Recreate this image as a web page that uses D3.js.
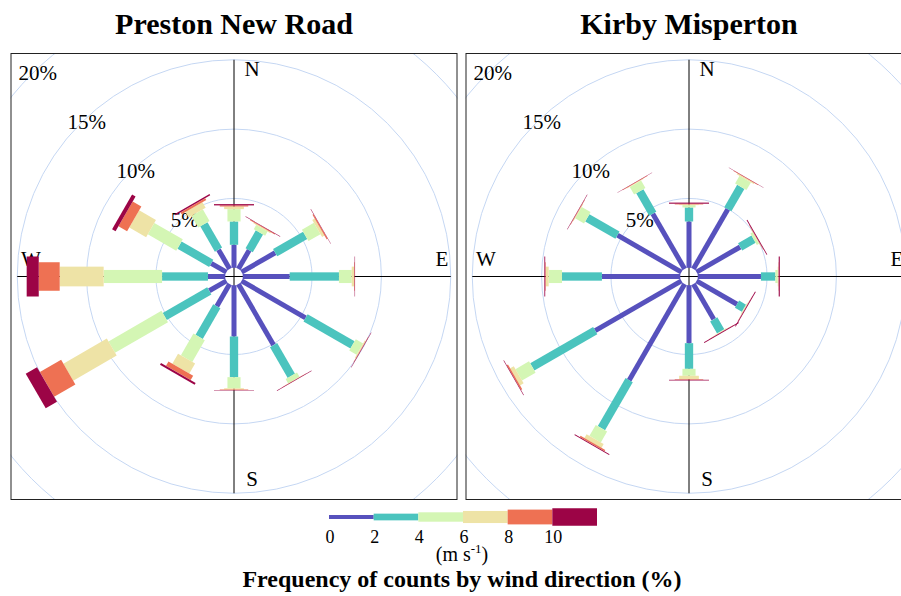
<!DOCTYPE html>
<html>
<head>
<meta charset="utf-8">
<script src="https://cdn.jsdelivr.net/npm/d3@7"></script>
<style>
  body { margin: 0; background: #fff; }
  svg text { font-family: "Liberation Serif", "Times New Roman", serif; fill: #000; }
</style>
</head>
<body>
<svg id="chart" width="901" height="596"></svg>
<script>
'use strict'

const directions = [360, 30, 60, 90, 120, 150, 180, 210, 240, 270, 300, 330]
const speedBins = ['0 to 2', '2 to 4', '4 to 6', '6 to 8', '8 to 10', '10 to 12']
const keyLabels = ['0', '2', '4', '6', '8', '10']
const gridPercents = [5, 10, 15, 20]
const siteNames = ['Preston New Road', 'Kirby Misperton']

// % of counts per direction (rows) and speed bin (columns)
const prestonFreq = [
  [1.66, 1.68, 0.89, 0.19, 0.08, 0.09],
  [1.56, 1.48, 0.35, 0.07, 0.06, 0.03],
  [2.80, 2.50, 1.00, 0.20, 0.08, 0.03],
  [3.39, 3.55, 0.92, 0.17, 0.04, 0.03],
  [5.33, 3.91, 0.61, 0.07, 0.03, 0.03],
  [5.08, 2.56, 0.36, 0.02, 0.02, 0.03],
  [3.70, 2.93, 0.80, 0.09, 0.04, 0.03],
  [1.85, 2.55, 1.81, 0.83, 0.36, 0.15],
  [1.43, 3.71, 4.41, 3.62, 1.77, 0.94],
  [1.25, 3.31, 4.21, 3.17, 1.51, 0.87],
  [1.27, 2.64, 2.37, 1.40, 0.72, 0.29],
  [1.61, 2.11, 0.97, 0.46, 0.15, 0.10]
]

const kirbyFreq = [
  [3.34, 1.01, 0.17, 0.05, 0.05, 0.08],
  [4.97, 1.87, 0.64, 0.08, 0.04, 0.02],
  [3.63, 1.12, 0.18, 0.04, 0.03, 0.06],
  [4.56, 1.04, 0.17, 0.05, 0.02, 0.08],
  [3.37, 0.58, 0.05, 0.02, 0.02, 0.06],
  [2.94, 1.00, 0.04, 0.02, 0.02, 0.06],
  [4.18, 1.85, 0.50, 0.25, 0.04, 0.05],
  [8.00, 4.00, 0.91, 0.32, 0.10, 0.07],
  [7.18, 5.24, 1.13, 0.30, 0.10, 0.04],
  [5.65, 2.88, 0.96, 0.21, 0.04, 0.06],
  [5.33, 2.51, 0.74, 0.05, 0.03, 0.03],
  [4.60, 1.87, 0.63, 0.05, 0.03, 0.02]
]

const binColours = ['#5751bd', '#4bc4be', '#d4f6b4', '#eee3a6', '#ee7153', '#9c0446']

const svg = d3.select('#chart')

const colour = d3.scaleOrdinal().domain(speedBins).range(binColours)
const radius = d3.scaleLinear().domain([0, 20]).range([8.7, 8.7 + 20 * 13.87])

// paddle widths grow like openair's box.widths
const widthSeq = d3.scaleLinear().domain([0, speedBins.length - 1]).range([0.002 ** 0.25, 0.016 ** 0.25])
const paddleWidth = i => 5 * Math.pow(widthSeq(i), 4) / 0.002

const stack = d3.stack().keys(speedBins)

function drawRose(name, freq, x0) {
  const boxW = 447
  const boxH = 447
  const y0 = 53
  const cx = x0 + boxW / 2
  const cy = y0 + boxH / 2
  const clipId = 'clip-' + name.replace(/\s+/g, '-')

  svg.append('text')
    .attr('x', cx)
    .attr('y', 34)
    .attr('text-anchor', 'middle')
    .attr('font-size', 30)
    .attr('font-weight', 'bold')
    .text(name)

  svg.append('clipPath').attr('id', clipId)
    .append('rect').attr('x', x0).attr('y', y0).attr('width', boxW).attr('height', boxH)

  const panel = svg.append('g').attr('clip-path', `url(#${clipId})`)
  const g = panel.append('g').attr('transform', `translate(${cx},${cy})`)

  g.selectAll('circle.grid')
    .data(gridPercents)
    .join('circle')
    .attr('class', 'grid')
    .attr('r', d => radius(d))
    .attr('fill', 'none')
    .attr('stroke', '#c5d7f3')
    .attr('stroke-width', 1)

  const axisLen = radius(15)
  g.append('line').attr('x1', 0).attr('x2', 0).attr('y1', -axisLen).attr('y2', axisLen)
    .attr('stroke', '#000').attr('stroke-width', 1)
  g.append('line').attr('y1', 0).attr('y2', 0).attr('x1', -axisLen).attr('x2', axisLen)
    .attr('stroke', '#000').attr('stroke-width', 1)

  const compass = [
    {t: 'N', x: 18, y: -208},
    {t: 'E', x: 208, y: -18},
    {t: 'S', x: 18, y: 202},
    {t: 'W', x: -203, y: -18}
  ]
  g.selectAll('text.compass')
    .data(compass)
    .join('text')
    .attr('class', 'compass')
    .attr('x', d => d.x)
    .attr('y', d => d.y)
    .attr('text-anchor', 'middle')
    .attr('dominant-baseline', 'central')
    .attr('font-size', 21)
    .text(d => d.t)

  const diag = Math.SQRT1_2
  g.selectAll('text.pct')
    .data(gridPercents)
    .join('text')
    .attr('class', 'pct')
    .attr('x', d => -radius(d) * diag + 6)
    .attr('y', d => -radius(d) * diag - 1.5)
    .attr('text-anchor', 'middle')
    .attr('dominant-baseline', 'central')
    .attr('font-size', 21)
    .text(d => d + '%')

  const rows = directions.map((dir, i) => {
    const row = {dir: dir}
    speedBins.forEach((b, j) => { row[b] = freq[i][j] })
    return row
  })
  const series = stack(rows)

  series.forEach((s, i) => {
    g.selectAll(null)
      .data(s)
      .join('rect')
      .attr('transform', d => `rotate(${d.data.dir})`)
      .attr('x', -paddleWidth(i) / 2)
      .attr('width', paddleWidth(i))
      .attr('y', d => -radius(d[1]))
      .attr('height', d => radius(d[1]) - radius(d[0]))
      .attr('fill', colour(s.key))
  })

  svg.append('rect')
    .attr('x', x0 + 0.5).attr('y', y0 + 0.5)
    .attr('width', boxW - 1).attr('height', boxH - 1)
    .attr('fill', 'none')
    .attr('stroke', '#222')
    .attr('stroke-width', 1)
}

drawRose(siteNames[0], prestonFreq, 10.5)
drawRose(siteNames[1], kirbyFreq, 465.5)

// key
const keyX = d3.scaleBand().domain(speedBins).range([329, 597])
const keyH = d3.scaleLinear().domain([0, speedBins.length - 1]).range([4, 17.5])
const keyY = 517

const key = svg.append('g')
key.selectAll('rect')
  .data(speedBins)
  .join('rect')
  .attr('x', d => keyX(d))
  .attr('width', keyX.bandwidth())
  .attr('y', (d, i) => keyY - keyH(i) / 2)
  .attr('height', (d, i) => keyH(i))
  .attr('fill', d => colour(d))

key.selectAll('text')
  .data(keyLabels)
  .join('text')
  .attr('x', (d, i) => keyX(speedBins[i]) + 1)
  .attr('y', 543)
  .attr('text-anchor', 'middle')
  .attr('font-size', 18)
  .text(d => d)

const unit = key.append('text')
  .attr('x', 462)
  .attr('y', 561)
  .attr('text-anchor', 'middle')
  .attr('font-size', 20)
unit.append('tspan').text('(m s')
unit.append('tspan').attr('font-size', 13).attr('dy', -8).text('-1')
unit.append('tspan').attr('dy', 8).text(')')

svg.append('text')
  .attr('x', 462)
  .attr('y', 587)
  .attr('text-anchor', 'middle')
  .attr('font-size', 24)
  .attr('font-weight', 'bold')
  .text('Frequency of counts by wind direction (%)')
</script>
</body>
</html>
